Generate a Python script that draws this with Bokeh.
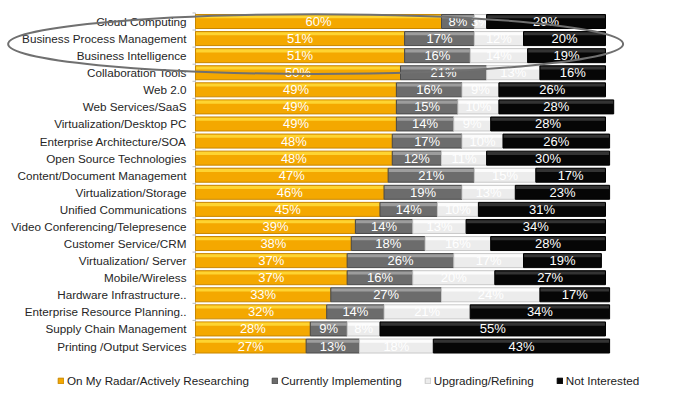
import numpy as np
from bokeh.plotting import figure
from bokeh.models import ColumnDataSource, Range1d, Legend, LegendItem
from bokeh.core.properties import value
from bokeh.embed import file_html
from bokeh.resources import INLINE

# ---------------- data ----------------
categories = [
    "Cloud Computing", "Business Process Management", "Business Intelligence",
    "Collaboration Tools", "Web 2.0", "Web Services/SaaS", "Virtualization/Desktop PC",
    "Enterprise Architecture/SOA", "Open Source Technologies", "Content/Document Management",
    "Virtualization/Storage", "Unified Communications", "Video Conferencing/Telepresence",
    "Customer Service/CRM", "Virtualization/ Server", "Mobile/Wireless",
    "Hardware Infrastructure..", "Enterprise Resource Planning..",
    "Supply Chain Management", "Printing /Output Services",
]
radar = [60, 51, 51, 50, 49, 49, 49, 48, 48, 47, 46, 45, 39, 38, 37, 37, 33, 32, 28, 27]
implementing = [8, 17, 16, 21, 16, 15, 14, 17, 12, 21, 19, 14, 14, 18, 26, 16, 27, 14, 9, 13]
upgrading = [3, 12, 14, 13, 9, 10, 9, 10, 11, 15, 13, 10, 13, 16, 17, 20, 24, 21, 8, 18]
not_interested = [29, 20, 19, 16, 26, 28, 28, 26, 30, 17, 23, 31, 34, 28, 19, 27, 17, 34, 55, 43]
series_names = ["On My Radar/Actively Researching", "Currently Implementing",
                "Upgrading/Refining", "Not Interested"]
highlighted = ["Business Process Management", "Business Intelligence"]

# ---------------- styles ----------------
fills = ["#F4A800", "#6C6C6C", "#ECECEC", "#060606"]
glosses = ["#FFDC3A", "#A6A6A6", "#FFFFFF", "#3C3C3C"]
edges = ["#C98700", "#4A4A4A", "#C9C9C9", "#000000"]
FONT = "Liberation Sans"

W, H = 686, 395
PX_PER_PCT = 4.1
X0_PX = 195.0          # screen x of 0 % inside the figure
ROW_PX = 17.08
FIRST_ROW_PX = 21.0    # screen y of the first row centre inside the figure
BAR_H = 0.82

x_start = -X0_PX / PX_PER_PCT
x_end = x_start + W / PX_PER_PCT
y_top = -FIRST_ROW_PX / ROW_PX
y_bottom = y_top + H / ROW_PX

p = figure(width=W, height=H, x_range=Range1d(x_start, x_end),
           y_range=Range1d(y_bottom, y_top), output_backend="svg",
           toolbar_location=None, min_border=0, x_axis_type=None, y_axis_type=None)
p.outline_line_color = None
p.xgrid.visible = False
p.ygrid.visible = False
p.background_fill_color = "white"
p.border_fill_color = "white"

n = len(categories)
y = np.arange(n)
series = [radar, implementing, upgrading, not_interested]

# axis line and ticks
p.segment(x0=[0], y0=[-0.5], x1=[0], y1=[n - 0.5], line_color="#BDBDBD", line_width=1)
tick_y = np.arange(n + 1) - 0.5
p.segment(x0=np.full(n + 1, -3 / PX_PER_PCT), y0=tick_y, x1=np.zeros(n + 1), y1=tick_y,
          line_color="#BDBDBD", line_width=1)

left = np.zeros(n)
renderers = []
for vals, fc, gc, ec, name in zip(series, fills, glosses, edges, series_names):
    vals = np.array(vals, dtype=float)
    right = left + vals
    src = ColumnDataSource(dict(y=y, left=left, right=right, mid=(left + right) / 2,
                                lab=[f"{int(v)}%" for v in vals]))
    r = p.hbar(y="y", left="left", right="right", height=BAR_H, source=src,
               fill_color=fc, line_color=ec, line_width=1)
    renderers.append((name, r))
    gsrc = ColumnDataSource(dict(y=y - BAR_H / 2 + 0.13, left=left + 0.15, right=right - 0.15))
    p.hbar(y="y", left="left", right="right", height=0.18, source=gsrc,
           fill_color=gc, fill_alpha=0.85, line_color=None)
    p.text(x="mid", y="y", text="lab", source=src, text_color="white",
           text_font=value(FONT), text_font_size="13px", text_align="center",
           text_baseline="middle")
    left = right

# category labels
p.text(x=np.full(n, -2.2), y=y, text=categories, text_color="#262626",
       text_font=value(FONT), text_font_size="11.7px", text_align="right",
       text_baseline="middle")

# highlight ellipse around selected rows
hi_idx = [categories.index(c) for c in highlighted]
p.ellipse(x=[29.3], y=[np.mean(hi_idx) - 0.18], width=[150], height=[3.5],
          fill_color=None, line_color="#707070", line_width=2)

legend = Legend(items=[LegendItem(label=nm, renderers=[r]) for nm, r in renderers],
                orientation="horizontal", location=(57, 8), glyph_width=7, glyph_height=7,
                label_standoff=3, spacing=22, padding=0, margin=0,
                border_line_color=None, background_fill_alpha=0,
                label_text_font=FONT, label_text_font_size="11.7px",
                label_text_color="#222222", label_height=12)
p.add_layout(legend)

open("out.html", "w").write(file_html(p, INLINE))
